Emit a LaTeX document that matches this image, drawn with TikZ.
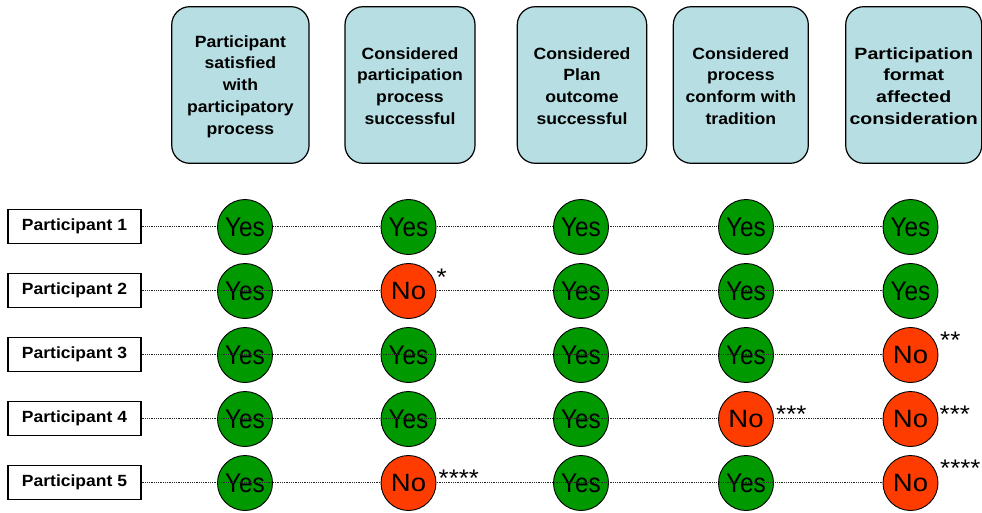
\documentclass[tikz,border=0pt]{standalone}
\usepackage{fontspec}
\setmainfont{Liberation Sans}[FakeStretch=1.08]
\newfontfamily\widesans{Liberation Sans}[FakeStretch=1.2]
\newfontfamily\yesfont{Liberation Sans}[FakeStretch=0.9]
\newfontfamily\nofont{Liberation Sans}[FakeStretch=1.1]
\definecolor{hdrfill}{RGB}{183,222,226}
\definecolor{yesgreen}{RGB}{0,153,0}
\definecolor{nored}{RGB}{255,60,0}
\begin{document}
\begin{tikzpicture}[x=1pt,y=-1pt,
  header/.style={draw=black, line width=1.2pt, fill=hdrfill, rounded corners=18pt,
    minimum height=156.6pt, align=center, inner sep=0pt,
    font=\fontsize{16.3}{21.8}\selectfont\bfseries},
  plabel/.style={draw=black, line width=1.2pt, fill=white, minimum width=133pt,
    minimum height=34pt, inner sep=0pt, font=\fontsize{16.2}{20}\selectfont\bfseries},
  dot/.style={circle, draw=black, line width=0.9pt, minimum size=55pt, inner sep=0pt},
  yes/.style={dot, fill=yesgreen, font=\yesfont\fontsize{27}{27}\selectfont},
  no/.style={dot, fill=nored, font=\nofont\fontsize{25}{25}\selectfont},
  link/.style={draw=black!85, line width=0.8pt, dash pattern=on 0.9pt off 0.9pt},
  stars/.style={anchor=base west, inner sep=0pt, font=\fontsize{24}{24}\selectfont}
]
\useasboundingbox (0,0) rectangle (982,513);

% column headers (text sits a little below the box centre)
\node[header, minimum width=137.3pt] (h1) at (240.4,85) {};
\node[header, minimum width=130pt]   (h2) at (410,85)   {};
\node[header, minimum width=129.4pt] (h3) at (582,85)   {};
\node[header, minimum width=135pt]   (h4) at (740.8,85) {};
\node[header, minimum width=136pt]   (h5) at (913.7,85) {};
\begin{scope}[every node/.style={align=center, inner sep=0pt, font=\fontsize{16.3}{21.8}\selectfont\bfseries}]
  \node (t1) at ([yshift=-1.5pt]h1.center) {Participant\\satisfied\\with\\participatory\\process};
  \node (t2) at ([yshift=-1pt]h2.center) {Considered\\participation\\process\\successful};
  \node (t3) at ([yshift=-1pt]h3.center) {Considered\\Plan\\outcome\\successful};
  \node (t4) at ([yshift=-1pt]h4.center) {Considered\\process\\conform with\\tradition};
  \node[font=\widesans\fontsize{16.3}{21.8}\selectfont\bfseries]
        (t5) at ([yshift=-1pt]h5.center) {Participation\\format\\affected\\consideration};
\end{scope}

% participant labels
\foreach \r/\y in {1/226.5, 2/290.5, 3/354.5, 4/418.5, 5/482.5}
  \node[plabel] (p\r) at (74.5,\y) {Participant \r};

% row 1: circles over the line
\draw[link] (p1.east) -- (p1.east -| 882.5,0);
\node[yes] (c11) at (245,227) {Yes};
\node[yes] (c12) at (408.5,227) {Yes};
\node[yes] (c13) at (581,227) {Yes};
\node[yes] (c14) at (746,227) {Yes};
\node[yes] (c15) at (910.5,227) {Yes};

% rows 2-5: green circles first, line, then red circles
\node[yes] (c21) at (245,291) {Yes};
\node[yes] (c23) at (581,291) {Yes};
\node[yes] (c24) at (746,291) {Yes};
\node[yes] (c25) at (910.5,291) {Yes};
\node[yes] (c31) at (245,355) {Yes};
\node[yes] (c32) at (408.5,355) {Yes};
\node[yes] (c33) at (581,355) {Yes};
\node[yes] (c34) at (746,355) {Yes};
\node[yes] (c41) at (245,419) {Yes};
\node[yes] (c42) at (408.5,419) {Yes};
\node[yes] (c43) at (581,419) {Yes};
\node[yes] (c51) at (245,483) {Yes};
\node[yes] (c53) at (581,483) {Yes};
\node[yes] (c54) at (746,483) {Yes};

\draw[link] (p2.east) -- (p2.east -| c25.west);
\draw[link] (p3.east) -- (p3.east -| c25.west);
\draw[link] (p4.east) -- (p4.east -| c25.west);
\draw[link] (p5.east) -- (p5.east -| c25.west);

\node[no] (c22) at (408.5,291) {No};
\node[no] (c35) at (910.5,355) {No};
\node[no] (c44) at (746,419) {No};
\node[no] (c45) at (910.5,419) {No};
\node[no] (c52) at (408.5,483) {No};
\node[no] (c55) at (910.5,483) {No};

% footnote marks
\node[stars] (s22) at (436.5,285.5) {*};
\node[stars] (s35) at (940,348.8) {**};
\node[stars] (s44) at (776,422.8) {***};
\node[stars] (s45) at (939.5,422.8) {***};
\node[stars] (s52) at (438.5,486.5) {****};
\node[stars] (s55) at (940,476.8) {****};
\end{tikzpicture}
\end{document}
